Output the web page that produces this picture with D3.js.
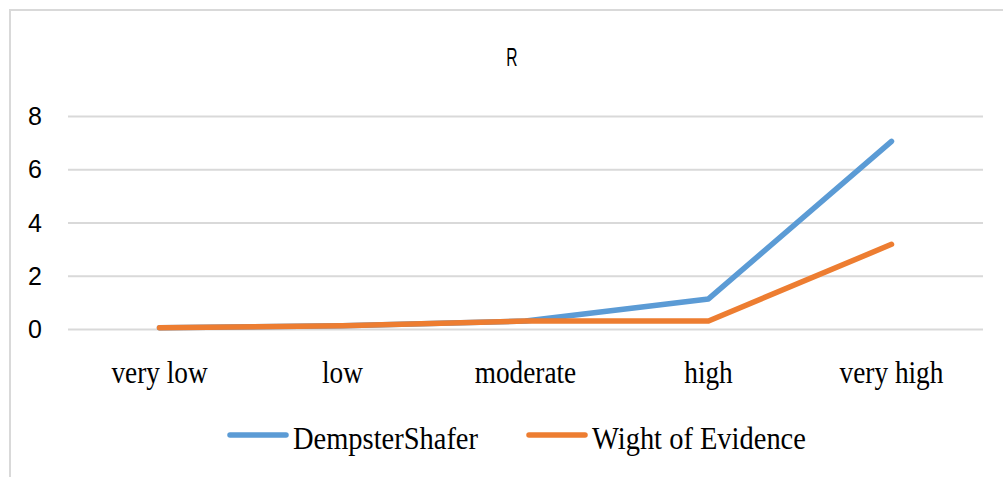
<!DOCTYPE html>
<html lang="en">
<head>
<meta charset="UTF-8">
<title>R</title>
<script src="https://d3js.org/d3.v7.min.js"></script>
<style>
    body { margin: 0; background: #fff; }
    svg { display: block; }
    .ylab { font-family: "Liberation Sans", Arial, sans-serif; font-size: 25px; fill: #000; }
    .xlab { font-family: "Liberation Serif", "Times New Roman", serif; font-size: 31px; fill: #000; }
    .leg { font-family: "Liberation Serif", "Times New Roman", serif; font-size: 32px; fill: #000; }
    .title { font-family: "Liberation Sans", Arial, sans-serif; font-size: 26px; fill: #000; }
</style>
</head>
<body>
<svg id="chart" width="1003" height="477"></svg>
<script>
// data
const categories = ["very low", "low", "moderate", "high", "very high"];
const dempsterShafer = [0.05, 0.12, 0.3, 1.13, 7.05];
const weightOfEvidence = [0.05, 0.12, 0.3, 0.3, 3.18];
const yTicks = [0, 2, 4, 6, 8];
const seriesNames = ["DempsterShafer", "Wight of Evidence"];
const seriesColors = ["#5b9bd5", "#ed7d31"];

const svg = d3.select("#chart");

// chart frame (only top and left edges visible)
svg.append("line").attr("x1", 9).attr("x2", 1003).attr("y1", 10).attr("y2", 10)
    .attr("stroke", "#d9d9d9").attr("stroke-width", 2);
svg.append("line").attr("x1", 10).attr("x2", 10).attr("y1", 9).attr("y2", 477)
    .attr("stroke", "#d9d9d9").attr("stroke-width", 2);

// title
svg.append("text").attr("class", "title")
    .attr("text-anchor", "middle")
    .attr("transform", "translate(512,66) scale(0.6,1)")
    .text("R");

// scales
const x = d3.scaleBand().domain(categories).range([68, 983]);
const cx = c => x(c) + x.bandwidth() / 2;
const y = d3.scaleLinear().domain([0, 8]).range([329, 116]);

// gridlines
const yAxis = d3.axisLeft(y).tickValues(yTicks).tickSize(-(983 - 68)).tickFormat("");
const g = svg.append("g").attr("transform", "translate(68,0)").call(yAxis);
g.select(".domain").remove();
g.selectAll(".tick line").attr("stroke", "#d9d9d9").attr("stroke-width", 2);

// y labels
svg.selectAll(".ylab").data(yTicks).join("text")
    .attr("class", "ylab")
    .attr("x", 42).attr("y", d => y(d) + 9)
    .attr("text-anchor", "end")
    .text(d => d);

// x labels (narrow, tall type)
svg.selectAll(".xlab").data(categories).join("text")
    .attr("class", "xlab")
    .attr("text-anchor", "middle")
    .attr("transform", d => `translate(${cx(d)},383) scale(0.88,1)`)
    .text(d => d);

// lines
const line = d3.line().x((d, i) => cx(categories[i])).y(d => y(d));
[dempsterShafer, weightOfEvidence].forEach((s, i) => {
    svg.append("path").datum(s)
        .attr("d", line)
        .attr("fill", "none")
        .attr("stroke", seriesColors[i])
        .attr("stroke-width", 5.5)
        .attr("stroke-linecap", "round")
        .attr("stroke-linejoin", "round");
});

// legend
const legX = [230, 529];
seriesNames.forEach((name, i) => {
    svg.append("line")
        .attr("x1", legX[i]).attr("x2", legX[i] + 56)
        .attr("y1", 435).attr("y2", 435)
        .attr("stroke", seriesColors[i]).attr("stroke-width", 5.5)
        .attr("stroke-linecap", "round");
    svg.append("text").attr("class", "leg")
        .attr("transform", `translate(${legX[i] + 63},449) scale(0.89,1)`)
        .text(name);
});
</script>
</body>
</html>
